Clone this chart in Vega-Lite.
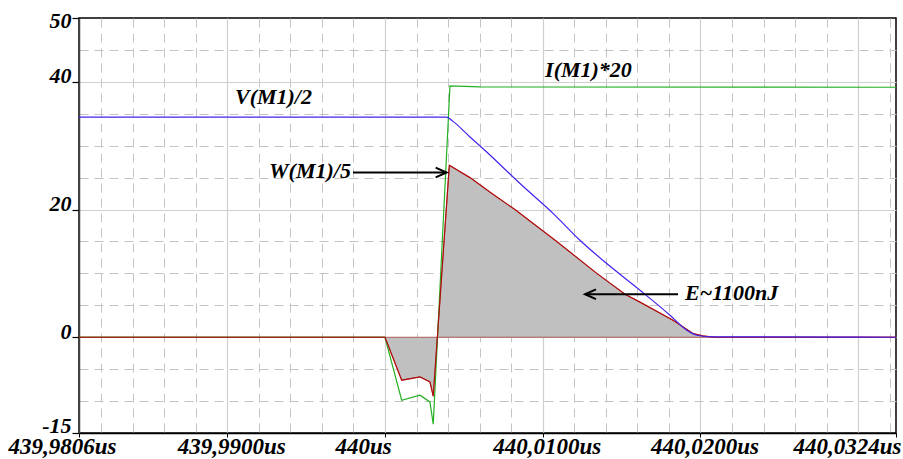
{
  "$schema": "https://vega.github.io/schema/vega-lite/v6.json",
  "width": 817,
  "height": 415,
  "autosize": {"type": "none"},
  "padding": {"left": 79, "top": 18, "right": 7, "bottom": 26},
  "background": "white",
  "config": {
    "view": {"stroke": "#000000", "strokeWidth": 1.5},
    "axis": {"labelFont": "Liberation Serif", "labelFontStyle": "italic", "labelFontWeight": "bold", "labelColor": "#000000"}
  },
  "datasets": {
    "curves": [
      {"series": "V", "t": 439.9806, "v": 34.46},
      {"series": "V", "t": 440.00391, "v": 34.46},
      {"series": "V", "t": 440.00433, "v": 33.77},
      {"series": "V", "t": 440.00539, "v": 31.37},
      {"series": "V", "t": 440.00645, "v": 29.02},
      {"series": "V", "t": 440.00856, "v": 24.07},
      {"series": "V", "t": 440.01067, "v": 19.37},
      {"series": "V", "t": 440.01236, "v": 15.19},
      {"series": "V", "t": 440.01406, "v": 11.54},
      {"series": "V", "t": 440.01617, "v": 7.36},
      {"series": "V", "t": 440.01807, "v": 3.45},
      {"series": "V", "t": 440.01913, "v": 1.1},
      {"series": "V", "t": 440.01977, "v": 0.31},
      {"series": "V", "t": 440.0208, "v": 0.06},
      {"series": "V", "t": 440.0324, "v": 0},
      {"series": "I", "t": 439.9806, "v": 0},
      {"series": "I", "t": 440.0, "v": 0},
      {"series": "I", "t": 440.00106, "v": -9.87},
      {"series": "I", "t": 440.00222, "v": -9.08},
      {"series": "I", "t": 440.00285, "v": -10.13},
      {"series": "I", "t": 440.00306, "v": -13.63},
      {"series": "I", "t": 440.00412, "v": 39.36},
      {"series": "I", "t": 440.00602, "v": 39.2},
      {"series": "I", "t": 440.0324, "v": 39.15},
      {"series": "W", "t": 439.9806, "v": 0},
      {"series": "W", "t": 440.0, "v": 0},
      {"series": "W", "t": 440.00106, "v": -6.73},
      {"series": "W", "t": 440.00222, "v": -6.22},
      {"series": "W", "t": 440.00285, "v": -7.0},
      {"series": "W", "t": 440.00306, "v": -9.24},
      {"series": "W", "t": 440.00408, "v": 26.94},
      {"series": "W", "t": 440.00539, "v": 25.0},
      {"series": "W", "t": 440.00678, "v": 22.5},
      {"series": "W", "t": 440.00824, "v": 20.0},
      {"series": "W", "t": 440.01089, "v": 15.0},
      {"series": "W", "t": 440.01343, "v": 10.0},
      {"series": "W", "t": 440.01522, "v": 6.73},
      {"series": "W", "t": 440.01617, "v": 5.5},
      {"series": "W", "t": 440.01826, "v": 2.66},
      {"series": "W", "t": 440.01953, "v": 0.58},
      {"series": "W", "t": 440.02016, "v": 0.2},
      {"series": "W", "t": 440.02092, "v": 0},
      {"series": "W", "t": 440.0324, "v": 0}
    ],
    "arrows": [
      {"t": 439.99797, "t2": 440.00391, "v": 25.8, "tip": 440.00391, "dir": "right"},
      {"t": 440.01268, "t2": 440.01858, "v": 6.73, "tip": 440.01268, "dir": "left"}
    ],
    "labels": [
      {"text": "V(M1)/2", "t": 439.99049, "v": 36.49},
      {"text": "I(M1)*20", "t": 440.01015, "v": 40.8},
      {"text": "W(M1)/5", "t": 439.99265, "v": 24.98},
      {"text": "E~1100nJ", "t": 440.01902, "v": 5.79}
    ]
  },
  "resolve": {"axis": {"x": "independent", "y": "independent"}},
  "layer": [
    {
      "data": {"name": "curves"},
      "transform": [{"filter": "datum.series === 'W'"}],
      "mark": {"type": "area", "fill": "#c0c0c0", "fillOpacity": 1, "stroke": "#a00000", "strokeOpacity": 0.55, "strokeWidth": 1},
      "encoding": {
        "x": {"field": "t", "type": "quantitative",
          "scale": {"domain": [439.9806, 440.0324], "nice": false, "zero": false},
          "axis": {"orient": "bottom", "title": null, "labels": false, "ticks": false, "domain": false,
            "grid": true, "gridColor": "#c4c4c4", "gridDash": [9, 6], "gridWidth": 1,
            "values": [439.982, 439.984, 439.986, 439.988, 439.992, 439.994, 439.996, 439.998, 440.002, 440.004, 440.006, 440.008, 440.012, 440.014, 440.016, 440.018, 440.022, 440.024, 440.026, 440.028, 440.032]}},
        "y": {"field": "v", "type": "quantitative",
          "scale": {"domain": [-15, 50], "nice": false, "zero": false},
          "axis": {"orient": "left", "title": null, "labels": false, "ticks": false, "domain": false,
            "grid": true, "gridColor": "#c4c4c4", "gridDash": [9, 6], "gridWidth": 1,
            "values": [-10, -5, 5, 10, 15, 25, 30, 35, 45]}},
        "y2": {"datum": 0}
      }
    },
    {
      "data": {"name": "curves"},
      "transform": [{"filter": "datum.series !== 'V'"}],
      "mark": {"type": "line", "strokeWidth": 1.2},
      "encoding": {
        "x": {"field": "t", "type": "quantitative",
          "axis": {"orient": "bottom", "title": null, "labels": false, "ticks": false, "domain": false,
            "grid": true, "gridColor": "#cfcfcf", "gridWidth": 1.2,
            "values": [439.99, 440.0, 440.01, 440.02, 440.03]}},
        "y": {"field": "v", "type": "quantitative",
          "axis": {"orient": "left", "title": null, "labels": false, "ticks": false, "domain": false,
            "grid": true, "gridColor": "#cfcfcf", "gridWidth": 1.2,
            "values": [0, 20, 40]}},
        "color": {"field": "series", "type": "nominal",
          "scale": {"domain": ["V", "I", "W"], "range": ["#4422ee", "#22b022", "#b00c0c"]},
          "legend": null},
        "order": {"field": "t", "type": "quantitative"}
      }
    },
    {
      "data": {"name": "curves"},
      "transform": [{"filter": "datum.series === 'V'"}],
      "mark": {"type": "line", "strokeWidth": 1.2, "interpolate": "monotone"},
      "encoding": {
        "x": {"field": "t", "type": "quantitative", "axis": null},
        "y": {"field": "v", "type": "quantitative", "axis": null},
        "color": {"field": "series", "type": "nominal", "legend": null},
        "order": {"field": "t", "type": "quantitative"}
      }
    },
    {
      "data": {"name": "arrows"},
      "mark": {"type": "rule", "color": "#000000", "strokeWidth": 2},
      "encoding": {
        "x": {"field": "t", "type": "quantitative",
          "axis": {"orient": "bottom", "title": null, "grid": false,
            "values": [439.9806, 439.99, 440.0, 440.01, 440.02, 440.0324],
            "domain": true, "domainColor": "#000000", "domainWidth": 1.5,
            "ticks": true, "tickColor": "#000000", "tickSize": 4, "tickWidth": 1,
            "labelFontSize": 23, "labelAlign": "left", "labelBaseline": "alphabetic", "labelPadding": 16,
            "labelFlush": false, "labelOverlap": false, "labelBound": false,
            "labelOffset": {"condition": [{"test": "datum.value < 439.985", "value": -71}, {"test": "datum.value > 440.03", "value": -103}], "value": -50},
            "labelExpr": "datum.value == 440 ? '440us' : replace(format(datum.value, '.4f'), '.', ',') + 'us'"}},
        "x2": {"field": "t2"},
        "y": {"field": "v", "type": "quantitative",
          "axis": {"orient": "left", "title": null, "grid": false,
            "values": [50, 40, 20, 0, -15],
            "domain": true, "domainColor": "#444444", "domainWidth": 1.5,
            "ticks": true, "tickColor": "#000000", "tickSize": 7, "tickWidth": 1.2,
            "labelFontSize": 22, "labelAlign": "right", "labelBaseline": "alphabetic", "labelPadding": 1,
            "labelFlush": false, "labelOverlap": false, "labelBound": false,
            "labelOffset": {"condition": [{"test": "datum.value == 50", "value": 9}, {"test": "datum.value < 0", "value": -1}], "value": 1},
            "labelExpr": "datum.value < 0 ? '-' + abs(datum.value) : '' + datum.value"}}
      }
    },
    {
      "data": {"name": "arrows"},
      "mark": {"type": "point", "filled": false, "stroke": "#000000", "strokeWidth": 2, "opacity": 1, "size": 484},
      "encoding": {
        "x": {"field": "tip", "type": "quantitative", "axis": null},
        "y": {"field": "v", "type": "quantitative", "axis": null},
        "shape": {"field": "dir", "type": "nominal",
          "scale": {"domain": ["right", "left"], "range": ["M -1 -0.45 L 0 0 L -1 0.45", "M 1 -0.45 L 0 0 L 1 0.45"]},
          "legend": null}
      }
    },
    {
      "data": {"name": "labels"},
      "mark": {"type": "text", "font": "Liberation Serif", "fontStyle": "italic", "fontWeight": "bold", "fontSize": 22, "align": "left", "baseline": "alphabetic", "color": "#000000"},
      "encoding": {
        "x": {"field": "t", "type": "quantitative", "axis": null},
        "y": {"field": "v", "type": "quantitative", "axis": null},
        "text": {"field": "text"}
      }
    }
  ]
}
